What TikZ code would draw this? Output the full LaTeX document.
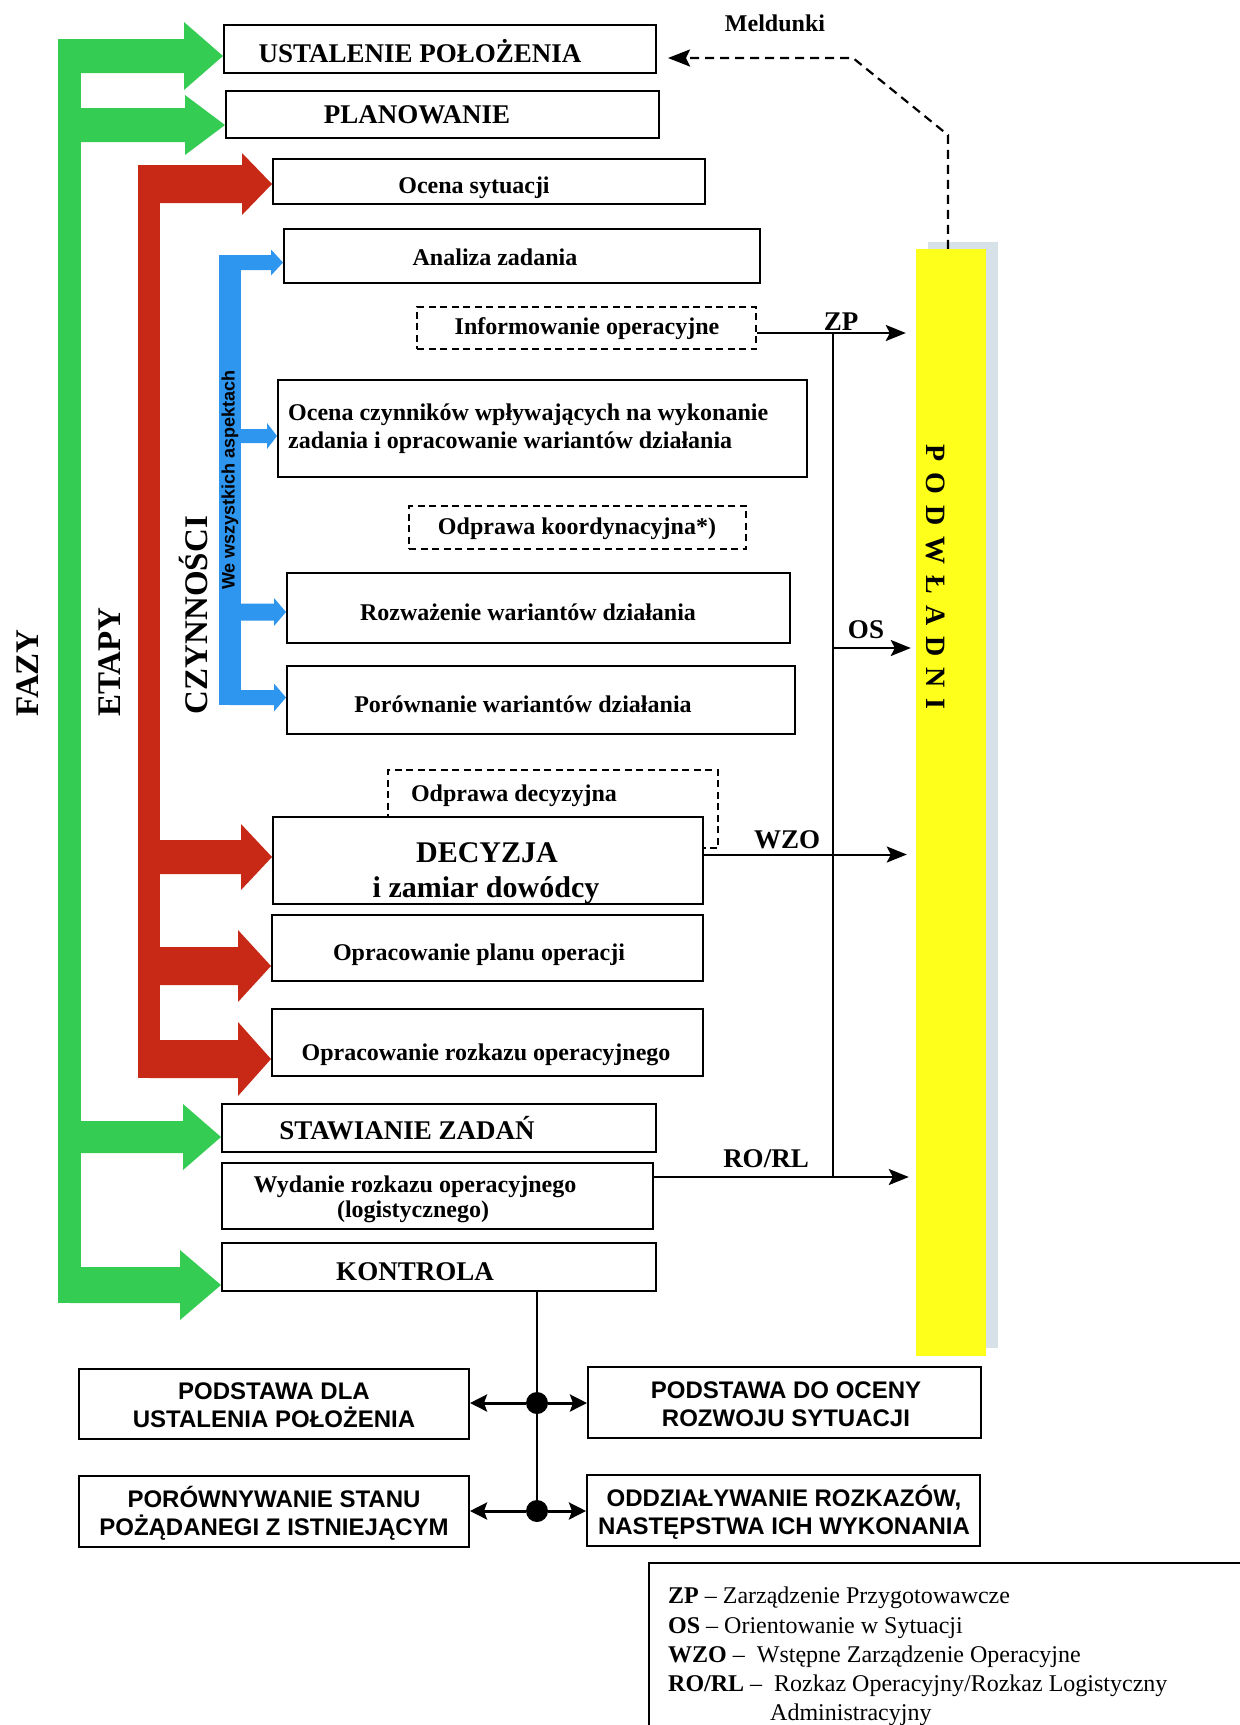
\documentclass[tikz,border=0pt]{standalone}
\usepackage{fontspec}
\setmainfont{Liberation Serif}
\newfontfamily\arialf{Liberation Sans}
\usetikzlibrary{arrows.meta,calc}
\definecolor{fgreen}{RGB}{52,204,82}
\definecolor{fred}{RGB}{200,40,22}
\definecolor{fblue}{RGB}{46,150,238}
\definecolor{fyellow}{RGB}{255,255,28}
\definecolor{fshadow}{RGB}{214,226,232}
% box from image corners (x1,y1)-(x2,y2)
\newcommand{\bx}[6][]{\node[boxst,minimum width={#5-#3},minimum height={#6-#4},#1] (#2) at ({(#3+#5)/2},{(#4+#6)/2}) {};}
% fat bracket arrow: colour, bar x, target node, tip y, half bar, half head, head length
\newcommand{\fat}[7]{%
  \coordinate (ft) at (#2,#4);
  \fill[#1] ($(ft)+(0,-#5)$) -- ($(#3.west |- ft)+(-#7,-#5)$) -- ($(#3.west |- ft)+(-#7,-#6)$) -- (#3.west |- ft) -- ($(#3.west |- ft)+(-#7,#6)$) -- ($(#3.west |- ft)+(-#7,#5)$) -- ($(ft)+(0,#5)$) -- cycle;}
\begin{document}
\begin{tikzpicture}[x=1pt,y=-1pt,
  boxst/.style={draw, line width=2pt, fill=white, inner sep=0pt},
  dbox/.style={line width=1.8pt, dash pattern=on 7pt off 4.5pt},
  txt/.style={font=\fontsize{24}{29}\selectfont\bfseries, inner sep=0pt, anchor=base},
  ttl/.style={font=\fontsize{27}{32}\selectfont\bfseries, inner sep=0pt, anchor=base},
  big/.style={font=\fontsize{30}{36}\selectfont\bfseries, inner sep=0pt, anchor=base},
  sidelbl/.style={font=\fontsize{33}{40}\selectfont\bfseries, rotate=90, inner sep=0pt},
  aspect/.style={font=\arialf\fontsize{18}{22}\selectfont\bfseries, rotate=90, inner sep=0pt},
  podw/.style={font=\fontsize{28}{32}\selectfont\bfseries, rotate=-90, inner sep=0pt},
  sanstxt/.style={font=\arialf\fontsize{24}{28}\selectfont\bfseries, align=center, inner sep=0pt},
  leg/.style={font=\fontsize{24}{29}\selectfont, inner sep=0pt, anchor=base west},
  conn/.style={line width=2pt},
  arr/.style={conn, -{Stealth[length=20pt,width=16pt,inset=4pt]}},
  barr/.style={line width=3pt, -{Stealth[length=17pt,width=17pt,inset=3pt]}},
  dline/.style={line width=2.2pt, dash pattern=on 9pt off 6pt},
  dot/.style={circle, fill=black, minimum size=22pt, inner sep=0pt}
]
\clip (0,0) rectangle (1240,1725);
\fill[white] (0,0) rectangle (1240,1725);

% yellow bar of subordinates
\fill[fshadow] (928,242) rectangle (998,1348);
\node[fill=fyellow, minimum width=70, minimum height=1107, inner sep=0pt] (ylw) at (951,802.5) {};
\node[podw] (podw) at (936,577) {P\hspace{11pt}O\hspace{11pt}D\hspace{11pt}W\hspace{11pt}Ł\hspace{11pt}A\hspace{11pt}D\hspace{11pt}N\hspace{11pt}I};

% boxes
\bx{ust}{224}{25}{656}{73}
\bx{pla}{226}{91}{659}{138}
\bx{ocs}{273}{159}{705}{204}
\bx{ana}{284}{229}{760}{283}
\bx[dbox]{info}{417}{307}{756}{349}
\bx{ocz}{278}{380}{807}{477}
\bx[dbox]{odk}{409}{506}{746}{549}
\bx{roz}{287}{573}{790}{643}
\bx{por}{287}{666}{795}{734}
\bx[dbox]{odd}{388}{770}{718}{848}
\bx{dec}{273}{817}{703}{904}
\bx{pln}{272}{915}{703}{981}
\bx{rzk}{272}{1009}{703}{1076}
\bx{sta}{222}{1104}{656}{1152}
\bx{wyd}{222}{1163}{653}{1229}
\bx{kon}{222}{1243}{656}{1291}
\bx{pdl}{79}{1369}{469}{1439}
\bx{pdo}{588}{1367}{981}{1438}
\bx{pst}{79}{1476}{469}{1547}
\bx{odz}{587}{1475}{980}{1546}
\bx{legbox}{649}{1563}{1262}{1745}

% green bracket (FAZY)
\fill[fgreen] (58,39) rectangle (81,1303);
\fat{fgreen}{70}{ust}{56}{17}{34}{39}
\fat{fgreen}{70}{pla}{125}{17}{30}{40}
\fat{fgreen}{70}{sta}{1137}{16}{33}{38}
\fat{fgreen}{70}{kon}{1285}{18}{35}{41}
% red bracket (ETAPY)
\fill[fred] (138,165) rectangle (160,1078);
\fat{fred}{149}{ocs}{184}{19}{31}{30}
\fat{fred}{149}{dec}{857}{17}{33}{31}
\fat{fred}{149}{pln}{966}{19}{36}{33}
\fat{fred}{149}{rzk}{1059}{19}{37}{33}
% blue bracket (CZYNNOSCI)
\fill[fblue] (219,255) rectangle (241,705);
\fat{fblue}{230}{ana}{262.5}{7.5}{13}{12}
\fat{fblue}{230}{ocz}{436}{7}{13}{10}
\fat{fblue}{230}{roz}{612}{8.5}{14}{12}
\fat{fblue}{230}{por}{697.5}{7.5}{14}{12}

% side labels
\node[sidelbl] (fazy) at (28,673) {FAZY};
\node[sidelbl] (etapy) at (110,662) {ETAPY};
\node[sidelbl] (czyn) at (194,615) {CZYNNOŚCI};
\node[aspect] (asp) at (230,480) {We wszystkich aspektach};

% box texts
\node[txt] (meld) at (775,31) {Meldunki};
\node[ttl] (ust-t) at (420,62) {USTALENIE POŁOŻENIA};
\node[ttl] (pla-t) at (417,123) {PLANOWANIE};
\node[txt] (ocs-t) at (474,193) {Ocena sytuacji};
\node[txt] (ana-t) at (495,265) {Analiza zadania};
\node[txt] (info-t) at (587,334) {Informowanie operacyjne};
\node[txt,anchor=base west] (ocz-t1) at (288,420) {Ocena czynników wpływających na wykonanie};
\node[txt,anchor=base west] (ocz-t2) at (288,448) {zadania i opracowanie wariantów działania};
\node[txt] (odk-t) at (577,534) {Odprawa koordynacyjna*)};
\node[txt] (roz-t) at (528,620) {Rozważenie wariantów działania};
\node[txt] (por-t) at (523,712) {Porównanie wariantów działania};
\node[txt] (odd-t) at (514,801) {Odprawa decyzyjna};
\node[big] (dec-t1) at (487,862) {DECYZJA};
\node[big] (dec-t2) at (486,897) {i zamiar dowódcy};
\node[txt] (pln-t) at (479,960) {Opracowanie planu operacji};
\node[txt] (rzk-t) at (486,1060) {Opracowanie rozkazu operacyjnego};
\node[ttl] (sta-t) at (407,1139) {STAWIANIE ZADAŃ};
\node[txt] (wyd-t1) at (415,1192) {Wydanie rozkazu operacyjnego};
\node[txt] (wyd-t2) at (413,1217) {(logistycznego)};
\node[ttl] (kon-t) at (415,1280) {KONTROLA};

% connectors to subordinates
\coordinate (zps) at ($(info.east)+(0,5)$);
\coordinate (dtop) at (833,333);
\coordinate (dbot) at (833,1177);
\coordinate (oss) at (833,648);
\coordinate (wzs) at ($(dec.east)+(0,-6)$);
\coordinate (ros) at ($(wyd.east)+(0,-19)$);
\draw[conn] (dtop) -- (dbot);
\draw[arr] (zps) -- ($(ylw.west |- zps)+(-10,0)$);
\draw[arr] (oss) -- ($(ylw.west |- oss)+(-5,0)$);
\draw[arr] (wzs) -- ($(ylw.west |- wzs)+(-9,0)$);
\draw[arr] (ros) -- ($(ylw.west |- ros)+(-7,0)$);
\node[ttl] (zp-l) at (841,330) {ZP};
\node[ttl] (os-l) at (866,638) {OS};
\node[ttl] (wzo-l) at (787,848) {WZO};
\node[ttl] (ro-l) at (766,1167) {RO/RL};

% reports
\coordinate (m0) at ($(ylw.north)+(-3,0)$);
\coordinate (m1) at (948,135);
\coordinate (m2) at (853,58);
\coordinate (m3) at ($(ust.east)+(11,9)$);
\draw[dline, -{Stealth[length=22pt,width=17pt,inset=4pt]}] (m0) -- (m1) -- (m2) -- (m3);

% control junctions
\node[dot] (j1) at (537,1403) {};
\node[dot] (j2) at (537,1511) {};
\draw[conn] (kon.south -| j1) -- (j2);
\draw[barr] (j1) -- (j1 -| pdl.east);
\draw[barr] (j1) -- (j1 -| pdo.west);
\draw[barr] (j2) -- (j2 -| pst.east);
\draw[barr] (j2) -- (j2 -| odz.west);
\node[sanstxt] (pdl-t) at (274,1405) {PODSTAWA DLA\\USTALENIA POŁOŻENIA};
\node[sanstxt] (pdo-t) at (786,1404) {PODSTAWA DO OCENY\\ROZWOJU SYTUACJI};
\node[sanstxt] (pst-t) at (274,1513) {PORÓWNYWANIE STANU\\POŻĄDANEGI Z ISTNIEJĄCYM};
\node[sanstxt] (odz-t) at (784,1512) {ODDZIAŁYWANIE ROZKAZÓW,\\NASTĘPSTWA ICH WYKONANIA};

% legend
\node[leg] (lg1) at (668,1603) {\textbf{ZP} – Zarządzenie Przygotowawcze};
\node[leg] (lg2) at (668,1633) {\textbf{OS} – Orientowanie w Sytuacji};
\node[leg] (lg3) at (668,1662) {\textbf{WZO} – \ Wstępne Zarządzenie Operacyjne};
\node[leg] (lg4) at (668,1691) {\textbf{RO/RL} – \ Rozkaz Operacyjny/Rozkaz Logistyczny};
\node[leg] (lg5) at (770,1720) {Administracyjny};
\end{tikzpicture}
\end{document}
